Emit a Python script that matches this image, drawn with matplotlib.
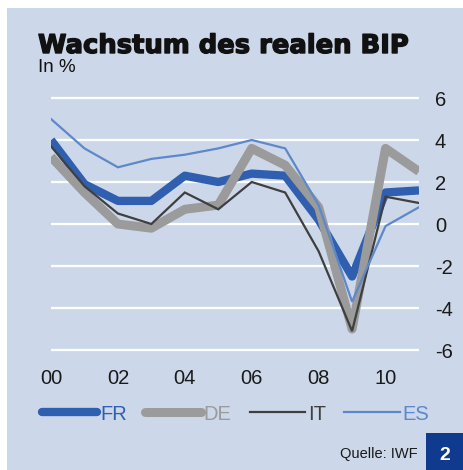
import matplotlib
matplotlib.use("Agg")
import matplotlib.pyplot as plt
import matplotlib.patheffects as pe
from matplotlib.patches import Rectangle
from matplotlib.lines import Line2D

plt.rcParams['font.family'] = ['Liberation Sans', 'DejaVu Sans']
plt.rcParams['axes.unicode_minus'] = False

# Daten (reales BIP-Wachstum in %)
jahre = [2000, 2001, 2002, 2003, 2004, 2005, 2006, 2007, 2008, 2009, 2010, 2011]
fr = [4.0, 1.9, 1.1, 1.1, 2.3, 2.0, 2.4, 2.3, 0.2, -2.5, 1.5, 1.6]
de = [3.2, 1.5, 0.0, -0.2, 0.7, 0.9, 3.6, 2.8, 0.8, -5.0, 3.6, 2.5]
it = [3.7, 1.8, 0.5, 0.0, 1.5, 0.7, 2.0, 1.5, -1.3, -5.1, 1.3, 1.0]
es = [5.0, 3.6, 2.7, 3.1, 3.3, 3.6, 4.0, 3.6, 0.9, -3.7, -0.1, 0.8]

x_ticks = [2000, 2002, 2004, 2006, 2008, 2010]
x_labels = ["00", "02", "04", "06", "08", "10"]
y_ticks = [-6, -4, -2, 0, 2, 4, 6]

bg = "#ccd8ea"
c_fr = "#2f5fae"
c_de = "#9b9b9b"
c_it = "#3f3f3f"
c_es = "#5d88c9"

W, H = 464, 470
fig = plt.figure(figsize=(W / 100, H / 100), dpi=100)
fig.patch.set_facecolor("white")

# Hintergrundfläche
fig.add_artist(Rectangle((7 / W, 0), 1 - 7 / W, 1 - 8 / H, transform=fig.transFigure,
                         facecolor=bg, edgecolor="none", zorder=0))

ax = fig.add_axes([51 / W, (H - 354.2) / H, 368 / W, (354.2 - 93.8) / H])
ax.set_facecolor("none")
ax.set_xlim(2000, 2011)
ax.set_ylim(-6.2, 6.2)
for s in ax.spines.values():
    s.set_visible(False)

ax.set_yticks(y_ticks)
ax.set_yticklabels([str(v) for v in y_ticks])
ax.yaxis.set_ticks_position("right")
ax.grid(axis="y", color="white", linewidth=1.6, zorder=1)
ax.set_axisbelow(True)
ax.set_xticks(x_ticks)
ax.set_xticklabels(x_labels)
ax.tick_params(axis="y", length=0, pad=11.5, labelsize=14.5, colors="#1a1a1a")
ax.tick_params(axis="x", length=0, pad=10.5, labelsize=14.5, colors="#1a1a1a")

ax.plot(jahre, fr, color=c_fr, linewidth=6, solid_joinstyle="round", solid_capstyle="butt", zorder=3)
ax.plot(jahre, de, color=c_de, linewidth=6.5, solid_joinstyle="round", solid_capstyle="butt", zorder=4)
ax.plot(jahre, it, color=c_it, linewidth=1.6, solid_joinstyle="miter", zorder=5)
ax.plot(jahre, es, color=c_es, linewidth=1.6, solid_joinstyle="miter", zorder=6)

# Titel
fig.text(38 / W, 1 - 53 / H, "Wachstum des realen BIP", fontsize=18.6, fontweight="bold",
         family=["DejaVu Sans"], color="#111111", va="baseline",
         path_effects=[pe.withStroke(linewidth=1.0, foreground="#111111")])
fig.text(38 / W, 1 - 72 / H, "In %", fontsize=13.5, color="#111111", va="baseline")

# Legende
handles = [
    Line2D([], [], color=c_fr, linewidth=6, solid_capstyle="round"),
    Line2D([], [], color=c_de, linewidth=6.5, solid_capstyle="round"),
    Line2D([], [], color=c_it, linewidth=1.6),
    Line2D([], [], color=c_es, linewidth=1.6),
]
leg = fig.legend(handles, ["FR", "DE", "IT", "ES"], loc="center left",
                 bbox_to_anchor=(42 / W, 1 - 414 / H), ncol=4, frameon=False,
                 fontsize=14.5, handlelength=2.75, handletextpad=0.15,
                 columnspacing=0.9, borderpad=0, borderaxespad=0)
for t, c in zip(leg.get_texts(), [c_fr, c_de, c_it, c_es]):
    t.set_color(c)

# Quelle und Nummer
fig.text(418 / W, 1 - 458 / H, "Quelle: IWF", fontsize=10.5, color="#1a1a1a",
         ha="right", va="baseline")
fig.add_artist(Rectangle((426 / W, 0), 38 / W, 37 / H, transform=fig.transFigure,
                         facecolor="#0f3a8e", edgecolor="none"))
fig.text(445 / W, 1 - 455 / H, "2", fontsize=14, fontweight="bold", color="white",
         ha="center", va="center")

fig.savefig("out.png", dpi=100, facecolor=fig.get_facecolor())
